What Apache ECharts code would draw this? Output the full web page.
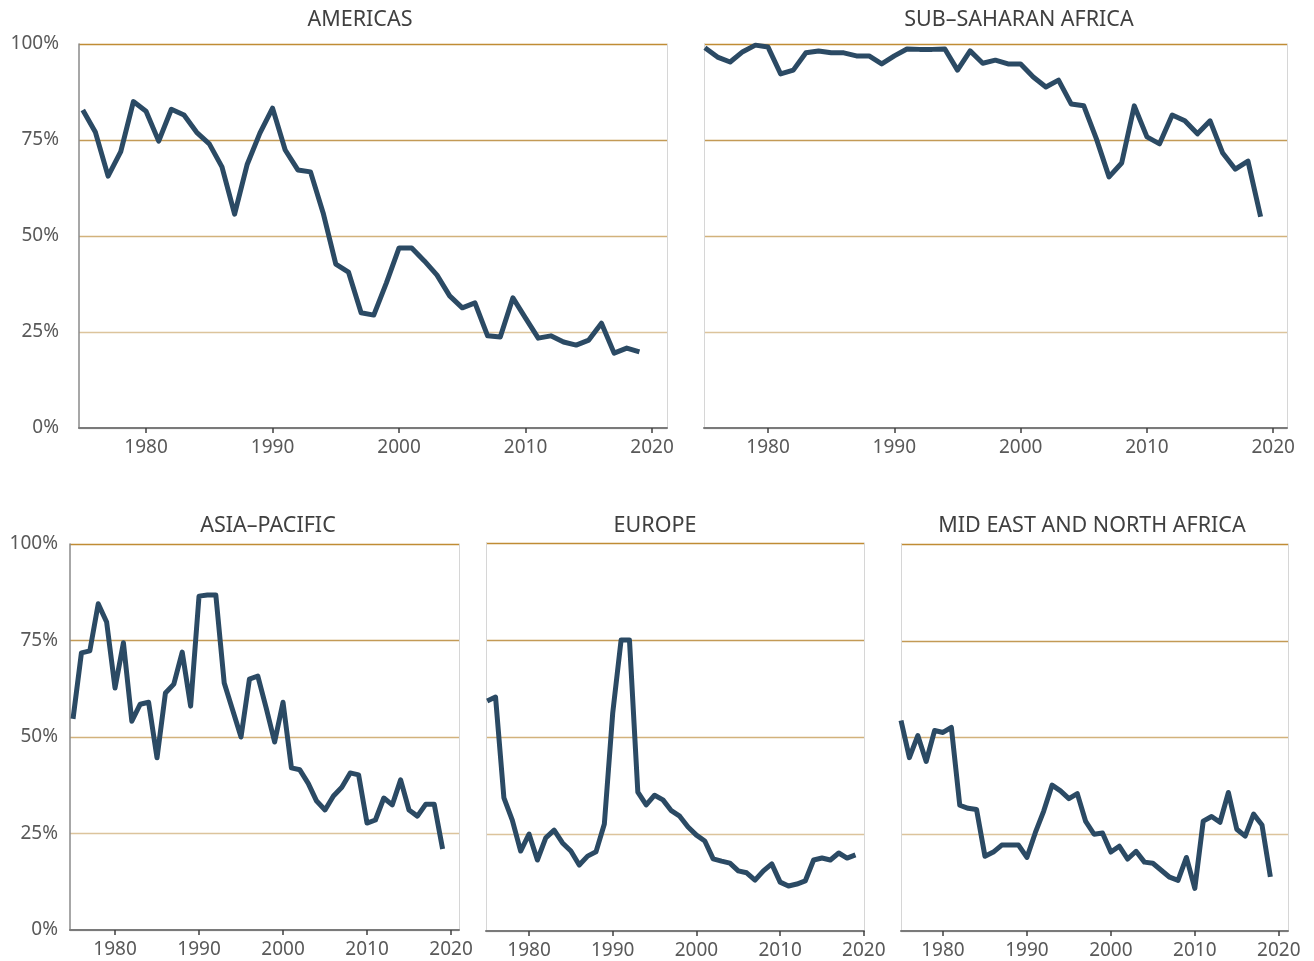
<!DOCTYPE html>
<html>
<head>
<meta charset="utf-8">
<script src="https://cdn.jsdelivr.net/npm/echarts@6/dist/echarts.min.js"></script>
<style>
html,body{margin:0;padding:0;background:#fff;}
#c{width:1314px;height:961px;}
</style>
</head>
<body>
<div id="c"></div>
<script>
const years = [1975,1976,1977,1978,1979,1980,1981,1982,1983,1984,1985,1986,1987,1988,1989,1990,1991,1992,1993,1994,1995,1996,1997,1998,1999,2000,2001,2002,2003,2004,2005,2006,2007,2008,2009,2010,2011,2012,2013,2014,2015,2016,2017,2018,2019];
const xTicks = [1980,1990,2000,2010,2020];
const yTicks = [0,25,50,75,100];
const titles = ['AMERICAS','SUB–SAHARAN AFRICA','ASIA–PACIFIC','EUROPE','MID EAST AND NORTH AFRICA'];

const americas = [82.8,77,65.6,72,85,82.5,74.7,83,81.5,77,74,68,55.7,68.7,76.8,83.3,72.4,67.2,66.7,56,42.7,40.6,30,29.4,37.8,46.9,46.9,43.5,39.8,34.4,31.3,32.6,24,23.7,33.9,28.6,23.4,24,22.4,21.6,22.9,27.3,19.5,20.8,19.8];
const subSaharan = [99,96.6,95.3,98,99.7,99.2,92.2,93.2,97.7,98.2,97.7,97.7,96.9,96.9,94.8,96.9,98.7,98.6,98.6,98.7,93.2,98.2,95,95.8,94.8,94.8,91.4,88.8,90.6,84.4,83.9,75.3,65.4,69,83.9,75.8,74,81.5,80,76.6,80,71.6,67.4,69.5,55];
const asiaPacific = [54.7,71.8,72.3,84.5,79.8,62.7,74.4,54.1,58.5,59,44.6,61.4,63.7,72,58,86.5,86.8,86.8,64,57,50,65,65.8,57.5,48.7,59,42,41.5,38,33.4,31.1,34.7,37,40.7,40.2,27.7,28.5,34.2,32.4,38.9,31.1,29.5,32.6,32.6,21];
const europe = [59.3,60.3,34.3,28.6,20.6,25,18.3,24,26,22.7,20.6,17,19.3,20.4,27.6,56.2,75,75,35.8,32.5,35,33.8,31,29.6,26.8,24.7,23.2,18.6,18,17.5,15.5,15,13.1,15.5,17.3,12.6,11.6,12.1,12.9,18.3,18.8,18.3,20.1,18.8,19.6];
const mena = [54.4,44.8,50.5,43.8,51.8,51.3,52.6,32.5,31.7,31.4,19.3,20.4,22.2,22.2,22.2,19,25.4,31,37.7,36.2,34.2,35.5,28.3,25,25.3,20.4,21.9,18.6,20.6,17.8,17.5,15.7,13.9,13.1,19,11,28.4,29.6,28.1,35.8,26.3,24.5,30.2,27.4,14];

const seriesValues = [americas, subSaharan, asiaPacific, europe, mena];

const panels = [
  {left:79, top:44, width:588, height:384, xmin:1974.7, xmax:2021.18, yLabels:true, labelMargin:20, titleX:355, titleY:4},
  {left:704, top:44, width:583, height:384, xmin:1974.93, xmax:2021.09, yLabels:false, titleX:1014, titleY:4},
  {left:70, top:544, width:389, height:386, xmin:1974.64, xmax:2020.95, yLabels:true, labelMargin:12, titleX:263, titleY:510},
  {left:486, top:543, width:378, height:388, xmin:1974.86, xmax:2020.02, yLabels:false, titleX:650, titleY:510},
  {left:901, top:544, width:387, height:387, xmin:1975, xmax:2021.1, yLabels:false, titleX:1087, titleY:510}
];

const FONT = 'Noto Sans';
const gridColors = ['#cfcfcf','#dcc49c','#d2b27c','#c39a56','#c08c34'];
const borderColor = '#d6d6d6';

const chart = echarts.init(document.getElementById('c'), null, {renderer:'canvas'});

const yAxes = [];
panels.forEach((p,i)=>{
  yAxes.push({
    type:'value', gridIndex:i, min:0, max:100, interval:25, position:'left',
    axisLine:{show:true, lineStyle:{color:p.yLabels ? '#8a8a8a' : borderColor, width:p.yLabels ? 1.5 : 1}},
    axisTick:{show:false},
    axisLabel:{show:p.yLabels, margin:p.labelMargin||8, fontFamily:FONT, fontSize:19, color:'#595959', formatter:'{value}%'},
    splitLine:{show:true, lineStyle:{color:gridColors, width:1.3}}
  });
});
panels.forEach((p,i)=>{
  yAxes.push({
    type:'value', gridIndex:i, min:0, max:100, interval:25, position:'right',
    axisLine:{show:true, lineStyle:{color:borderColor, width:1}},
    axisTick:{show:false}, axisLabel:{show:false}, splitLine:{show:false}
  });
});

const option = {
  backgroundColor:'#ffffff',
  animation:false,
  title: panels.map((p,i)=>({
    text: titles[i],
    left: p.titleX,
    top: p.titleY,
    textAlign:'center',
    textStyle:{fontFamily:FONT, fontSize:21.5, fontWeight:'normal', color:'#404040'}
  })),
  grid: panels.map(p=>({
    left:p.left, top:p.top, width:p.width, height:p.height, containLabel:false
  })),
  xAxis: panels.map((p,i)=>({
    type:'value', gridIndex:i, min:p.xmin, max:p.xmax,
    axisLine:{show:true, lineStyle:{color:'#7a7a7a', width:2}},
    axisTick:{show:true, customValues:xTicks, length:5, inside:false, lineStyle:{color:'#404040', width:1.5}},
    axisLabel:{show:true, customValues:xTicks, margin:10, fontFamily:FONT, fontSize:19, color:'#595959', formatter:v=>String(Math.round(v))},
    splitLine:{show:false}
  })),
  yAxis: yAxes,
  series: seriesValues.map((vals,i)=>({
    type:'line', xAxisIndex:i, yAxisIndex:i,
    data: years.map((y,k)=>[y, vals[k]]),
    showSymbol:false, symbol:'none',
    lineStyle:{color:'#2b4a64', width:5, join:'round', cap:'butt'},
    clip:false
  }))
};
chart.setOption(option);
</script>
</body>
</html>
